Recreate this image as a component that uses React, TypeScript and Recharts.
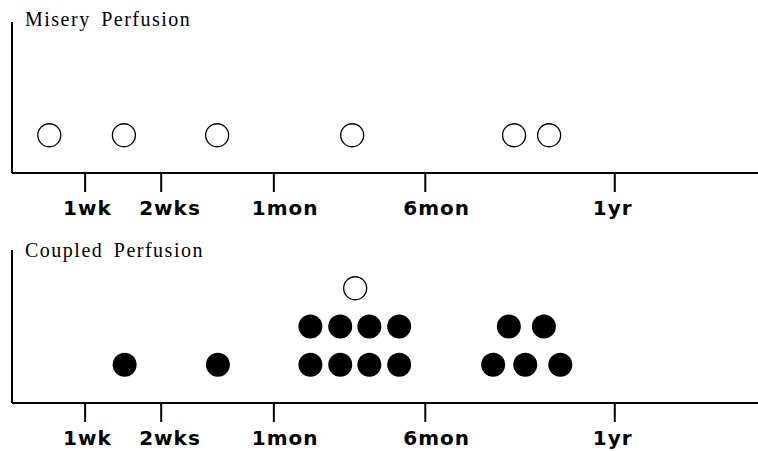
import React from "react";
import { ScatterChart, Scatter, XAxis, YAxis } from "recharts";

// x positions are on an arbitrary 0-100 time axis
const tickValues = [9.8, 20.0, 35.1, 55.4, 80.8];
const tickLabels = ["1wk", "2wks", "1mon", "6mon", "1yr"];

// Misery perfusion: open circles, one row
const miseryX = [5.0, 15.0, 27.5, 45.6, 67.3, 72.0];
const miseryY = [1, 1, 1, 1, 1, 1];

// Coupled perfusion: filled circles in rows
const coupledFilledX = [15.1, 27.6, 40.0, 44.0, 47.9, 51.9, 64.5, 68.8, 73.5, 40.0, 44.0, 47.9, 51.9, 66.6, 71.3];
const coupledFilledY = [1, 1, 1, 1, 1, 1, 1, 1, 1, 2, 2, 2, 2, 2, 2];
const coupledOpenX = [46.0];
const coupledOpenY = [3];

const toPoints = (xs: number[], ys: number[]) => xs.map((x, i) => ({ x, y: ys[i] }));

const OpenDot = (props: any) => (
  <circle cx={props.cx} cy={props.cy} r={11.5} fill="#fff" stroke="#000" strokeWidth={1.3} />
);
const FilledDot = (props: any) => <circle cx={props.cx} cy={props.cy} r={12} fill="#000" />;

const TimeTick = (props: any) => {
  const { x, y, payload } = props;
  const idx = tickValues.indexOf(payload.value);
  return (
    <text
      x={x - 22}
      y={y}
      dy="0.71em"
      textAnchor="start"
      fontFamily="DejaVu Sans"
      fontWeight="bold"
      fontSize={20}
      letterSpacing={1}
      fill="#000"
    >
      {tickLabels[idx]}
    </text>
  );
};

const titleStyle: React.CSSProperties = {
  position: "absolute",
  left: 25,
  fontFamily: "Liberation Serif",
  fontSize: 20,
  letterSpacing: 1.5,
  wordSpacing: 4,
  lineHeight: "20px",
  color: "#000",
  whiteSpace: "nowrap",
};

function Panel({ height, top, xAxisHeight, children }: any) {
  return (
    <ScatterChart width={758} height={height} margin={{ top, right: 0, left: 11, bottom: 0 }}>
      <XAxis
        type="number"
        dataKey="x"
        domain={[0, 100]}
        ticks={tickValues}
        height={xAxisHeight}
        axisLine={{ stroke: "#000", strokeWidth: 2 }}
        tickLine={{ stroke: "#000", strokeWidth: 2 }}
        tickSize={19}
        tickMargin={9}
        tick={<TimeTick />}
        interval={0}
        allowDataOverflow
      />
      <YAxis
        type="number"
        dataKey="y"
        domain={[0, 4]}
        width={1}
        tick={false}
        tickLine={false}
        axisLine={{ stroke: "#000", strokeWidth: 2 }}
        allowDataOverflow
      />
      {children}
    </ScatterChart>
  );
}

export default function App() {
  return (
    <div style={{ position: "absolute", left: 0, top: 0, width: 758, height: 451, background: "#fff" }}>
      <div style={{ position: "absolute", left: 0, top: 0 }}>
        <Panel height={230} top={22} xAxisHeight={57}>
          <Scatter data={toPoints(miseryX, miseryY)} shape={OpenDot} isAnimationActive={false} />
        </Panel>
      </div>
      <div style={{ position: "absolute", left: 0, top: 230 }}>
        <Panel height={221} top={20} xAxisHeight={48}>
          <Scatter data={toPoints(coupledFilledX, coupledFilledY)} shape={FilledDot} isAnimationActive={false} />
          <Scatter data={toPoints(coupledOpenX, coupledOpenY)} shape={OpenDot} isAnimationActive={false} />
        </Panel>
      </div>
      <div style={{ ...titleStyle, top: 9 }}>Misery Perfusion</div>
      <div style={{ ...titleStyle, top: 240 }}>Coupled Perfusion</div>
    </div>
  );
}
